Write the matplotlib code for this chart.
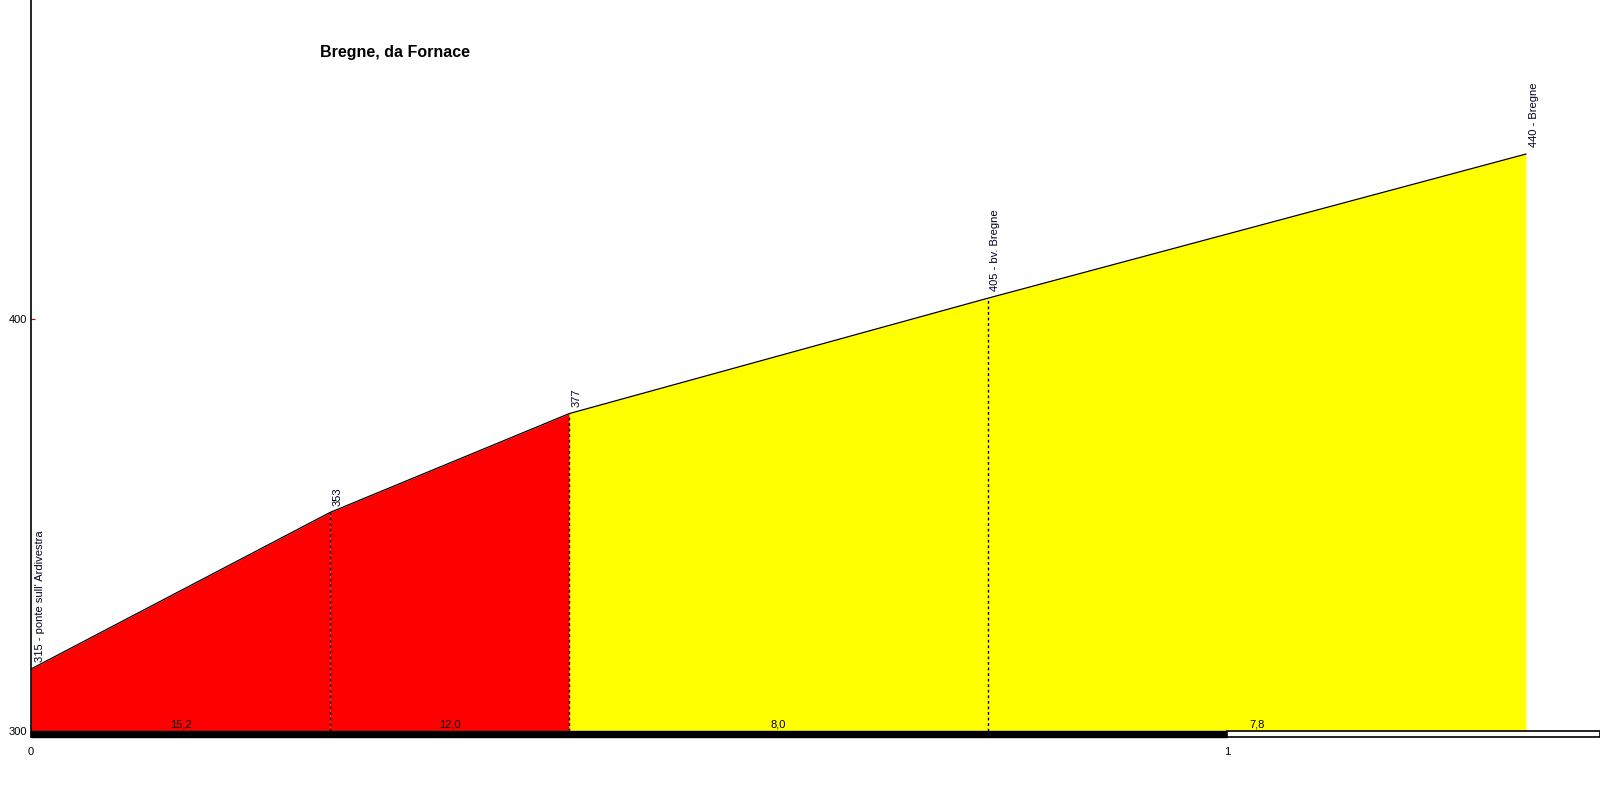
import matplotlib
matplotlib.use("Agg")
import matplotlib.pyplot as plt
from matplotlib.patches import Rectangle

plt.rcParams['font.family'] = ['Liberation Sans', 'DejaVu Sans']

# data
dist_km = [0.0, 0.25, 0.45, 0.80, 1.25]
elev_m = [315, 353, 377, 405, 440]
point_labels = ["315 - ponte sull' Ardivestra", "353", "377", "405 - bv. Bregne", "440 - Bregne"]
grade_labels = ["15,2", "12,0", "8,0", "7,8"]
seg_colors = ["#ff0000", "#ff0000", "#ffff00", "#ffff00"]
title = "Bregne, da Fornace"
x_ticks = [0, 1]
y_ticks = [300, 400]

fig = plt.figure(figsize=(16, 8), dpi=100)
ax = fig.add_axes([31/1600, 1 - 737/800, 1 - 31/1600, 737/800])
ymin, ymax = 298.5, 477.4
xmax = 1.312
ax.set_xlim(0, xmax)
ax.set_ylim(ymin, ymax)

for i in range(len(dist_km) - 1):
    xs = [dist_km[i], dist_km[i + 1]]
    ys = [elev_m[i], elev_m[i + 1]]
    ax.fill_between(xs, 300, ys, color=seg_colors[i], linewidth=0, zorder=1)
    ax.text((xs[0] + xs[1]) / 2, 300.3, grade_labels[i], ha='center', va='bottom',
            fontsize=8, color='black', zorder=5)

ax.plot(dist_km, elev_m, color='black', linewidth=0.9, zorder=3)

for x, y in zip(dist_km[1:-1], elev_m[1:-1]):
    ax.plot([x, x], [300, y], color='black', linewidth=1, linestyle=(0, (2, 2)), zorder=2)

for j, (x, y, lab) in enumerate(zip(dist_km, elev_m, point_labels)):
    ax.annotate(lab, (x, y), xytext=(3 if j == 0 else 2, 5), textcoords='offset points',
                rotation=90, ha='left', va='bottom', fontsize=8, color='#000020', zorder=5)

# distance bar at the bottom
ax.add_patch(Rectangle((0, ymin), 1, 300 - ymin, facecolor='black', edgecolor='black',
                       linewidth=1, zorder=4, clip_on=False))
ax.add_patch(Rectangle((1, ymin), xmax - 1, 300 - ymin, facecolor='white', edgecolor='black',
                       linewidth=1.2, zorder=4, clip_on=False))

ax.set_title(title, fontsize=11.5, fontweight='bold', x=(395 - 31) / (1600 - 31), y=0.912)

for s in ['top', 'right', 'bottom']:
    ax.spines[s].set_visible(False)
ax.spines['left'].set_linewidth(1.2)

ax.set_yticks(y_ticks)
ax.set_yticklabels([str(v) for v in y_ticks], fontsize=8)
ax.tick_params(axis='y', direction='in', length=3, color='#cc0000', pad=3)
ax.set_xticks(x_ticks)
ax.set_xticklabels([str(v) for v in x_ticks], fontsize=8)
ax.tick_params(axis='x', length=0, pad=7)

fig.savefig("out.png", dpi=100)
